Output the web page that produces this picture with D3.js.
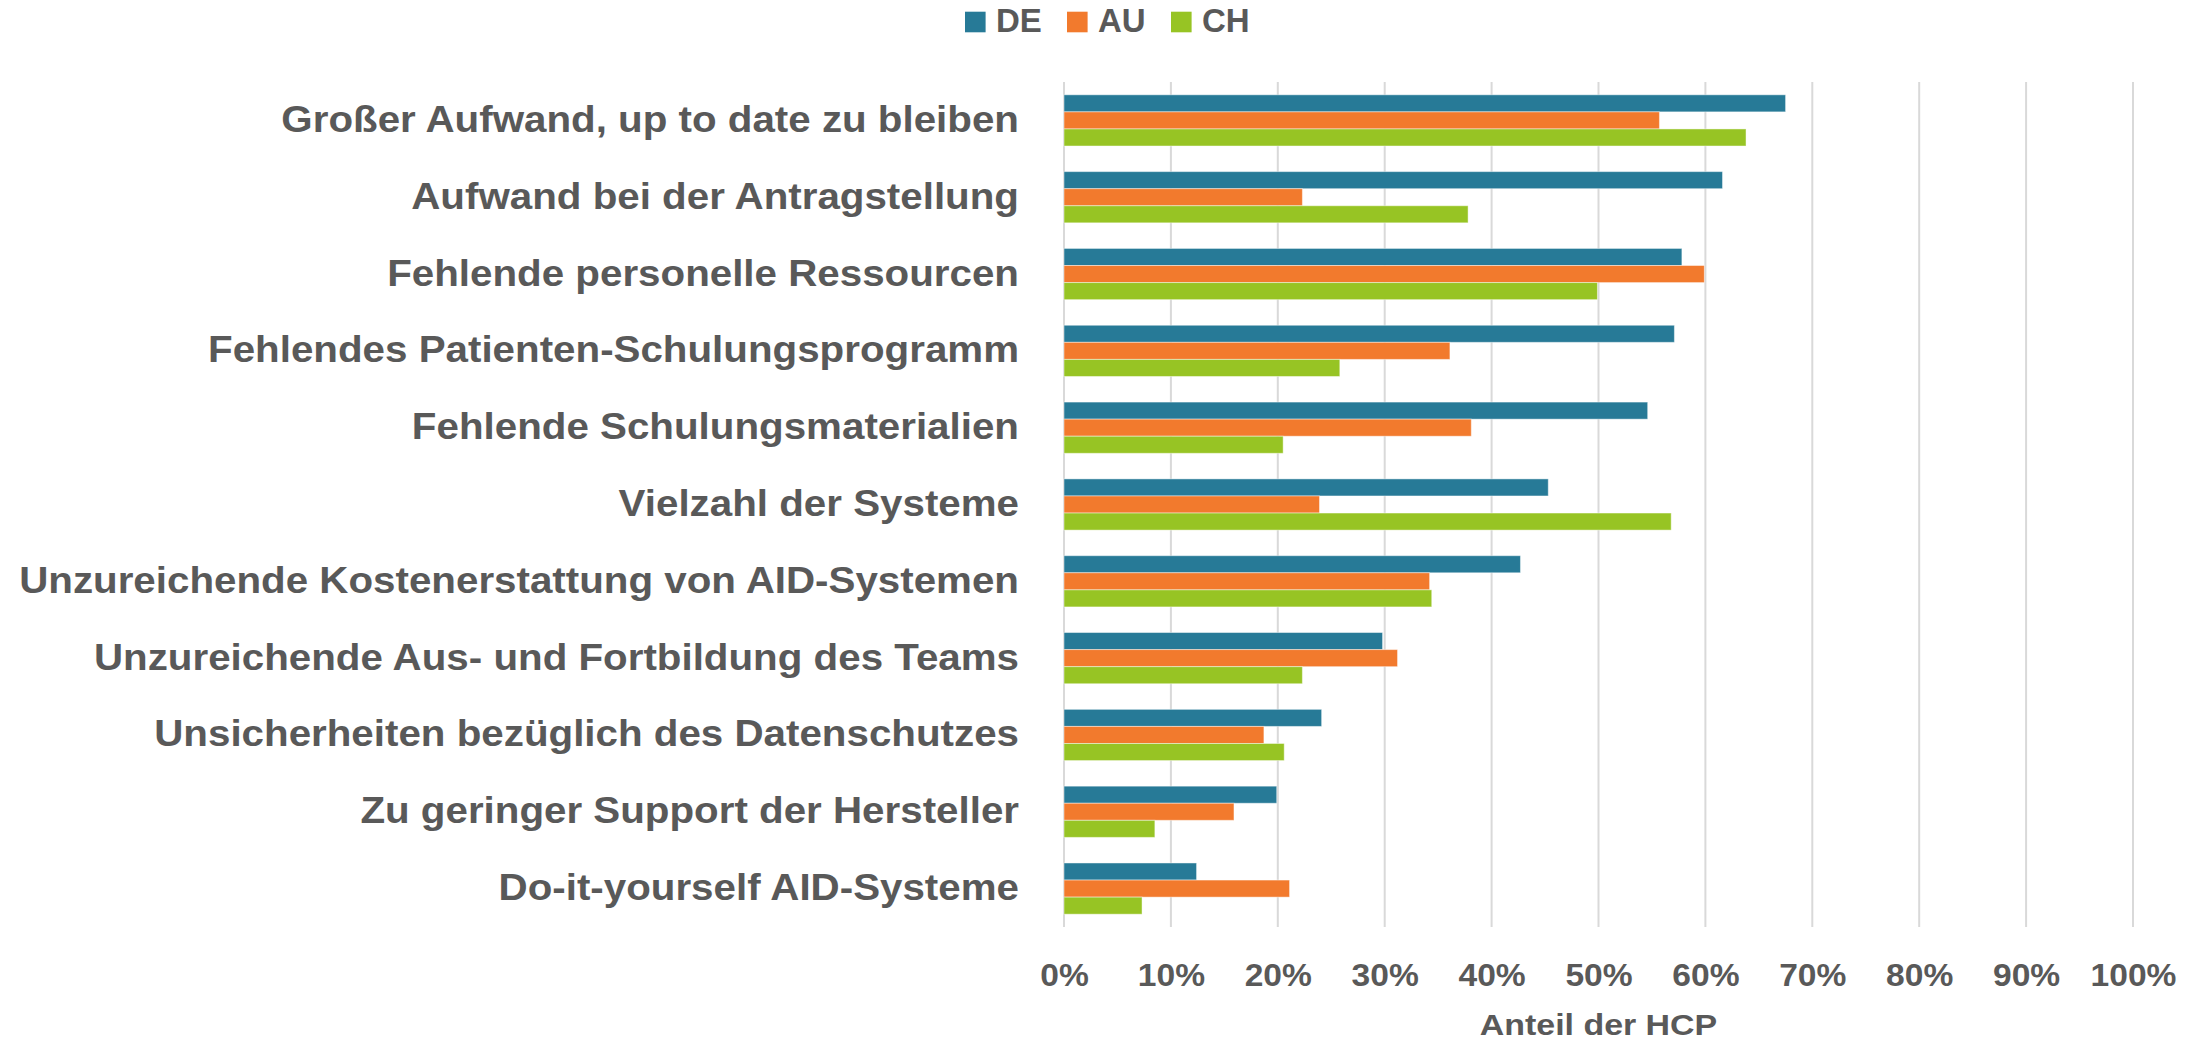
<!DOCTYPE html>
<html>
<head>
<meta charset="utf-8">
<script src="https://cdn.jsdelivr.net/npm/d3@7"></script>
<style>
  html, body { margin: 0; padding: 0; background: #fff; }
  svg { display: block; }
  text { font-family: "Liberation Sans", Arial, sans-serif; font-weight: bold; fill: #595959; }
</style>
</head>
<body>
<svg id="chart" width="2203" height="1040"></svg>
<script>
const categories = [
  "Großer Aufwand, up to date zu bleiben",
  "Aufwand bei der Antragstellung",
  "Fehlende personelle Ressourcen",
  "Fehlendes Patienten-Schulungsprogramm",
  "Fehlende Schulungsmaterialien",
  "Vielzahl der Systeme",
  "Unzureichende Kostenerstattung von AID-Systemen",
  "Unzureichende Aus- und Fortbildung des Teams",
  "Unsicherheiten bezüglich des Datenschutzes",
  "Zu geringer Support der Hersteller",
  "Do-it-yourself AID-Systeme"
];
const seriesNames = ["DE", "AU", "CH"];
const seriesColors = ["#277A97", "#F27A2D", "#97C424"];
const valuesDE = [67.5, 61.6, 57.8, 57.1, 54.6, 45.3, 42.7, 29.8, 24.1, 19.9, 12.4];
const valuesAU = [55.7, 22.3, 59.9, 36.1, 38.1, 23.9, 34.2, 31.2, 18.7, 15.9, 21.1];
const valuesCH = [63.8, 37.8, 49.9, 25.8, 20.5, 56.8, 34.4, 22.3, 20.6, 8.5, 7.3];
const tickValues = [0, 10, 20, 30, 40, 50, 60, 70, 80, 90, 100];
const axisTitle = "Anteil der HCP";

const seriesValues = [valuesDE, valuesAU, valuesCH];

const svg = d3.select("#chart");
const plot = { left: 1064, right: 2133, top: 82, bottom: 927 };

const x = d3.scaleLinear().domain([0, 100]).range([plot.left, plot.right]);
const y = d3.scaleBand().domain(categories).range([plot.top, plot.bottom]).paddingInner(0).paddingOuter(0);
// Excel-like gap width of 150% (gap = 1.5 × bar width, 3 bars per group)
const barH = y.bandwidth() / 4.5;
const ySeries = d3.scaleBand().domain(seriesNames)
  .range([0.75 * barH, 0.75 * barH + 3 * barH]);

// gridlines
svg.append("g").selectAll("line").data(tickValues).join("line")
  .attr("x1", d => x(d)).attr("x2", d => x(d))
  .attr("y1", plot.top).attr("y2", plot.bottom)
  .attr("stroke", "#D9D9D9").attr("stroke-width", 2);

// bars
const groups = svg.append("g").selectAll("g").data(categories).join("g")
  .attr("transform", d => `translate(0,${y(d)})`);
groups.selectAll("rect")
  .data((c, i) => seriesNames.map((s, j) => ({ s, j, v: seriesValues[j][i] })))
  .join("rect")
  .attr("x", x(0))
  .attr("y", d => ySeries(d.s))
  .attr("width", d => x(d.v) - x(0))
  .attr("height", ySeries.bandwidth())
  .attr("fill", d => seriesColors[d.j])
  .attr("stroke", "rgba(255,255,255,0.45)")
  .attr("stroke-width", 1);

// category labels
const yAxis = d3.axisLeft(y).tickSize(0).tickPadding(0);
const gy = svg.append("g").attr("transform", `translate(1019,0)`).call(yAxis);
gy.select(".domain").remove();
gy.selectAll("text")
  .attr("x", 0)
  .attr("font-size", 37)
  .attr("font-family", '"Liberation Sans", Arial, sans-serif')
  .attr("font-weight", "bold")
  .attr("fill", "#595959")
  .attr("dy", "0.31em")
  .attr("transform", "scale(1.09,1)");

// x tick labels
const xAxis = d3.axisBottom(x).tickValues(tickValues).tickFormat(d => d + "%").tickSize(0).tickPadding(0);
const gx = svg.append("g").attr("transform", `translate(0,986)`).call(xAxis);
gx.select(".domain").remove();
gx.selectAll("text")
  .attr("y", 0)
  .attr("dy", 0)
  .attr("font-size", 32)
  .attr("font-family", '"Liberation Sans", Arial, sans-serif')
  .attr("font-weight", "bold")
  .attr("fill", "#595959")
  .attr("transform", "scale(1.05,1)");

// axis title
const titleX = (plot.left + plot.right) / 2;
svg.append("text")
  .attr("transform", `translate(${titleX},1035) scale(1.17,1)`)
  .attr("text-anchor", "middle")
  .attr("font-size", 29)
  .text(axisTitle);

// legend
const legendX = [965, 1067, 1171];
const lg = svg.append("g").selectAll("g").data(seriesNames).join("g")
  .attr("transform", (d, i) => `translate(${legendX[i]},22)`);
lg.append("rect").attr("x", 0).attr("y", -10.3).attr("width", 20.6).attr("height", 20.6)
  .attr("fill", (d, i) => seriesColors[i]);
lg.append("text").attr("x", 31).attr("y", 10.3).attr("font-size", 33).text(d => d);
</script>
</body>
</html>
